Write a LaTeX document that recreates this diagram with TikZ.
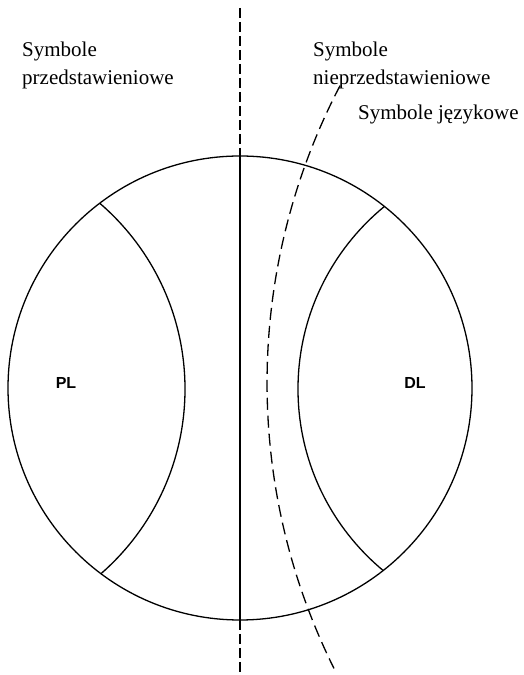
\documentclass[tikz,border=0pt]{standalone}
\usepackage{fontspec}
\setmainfont{Liberation Serif}
\setsansfont{Liberation Sans}
\usetikzlibrary{positioning,calc}
\tikzstyle{caption} = [font=\fontsize{21}{28}\selectfont,align=left,inner sep=0pt,anchor=base west]
\tikzstyle{field} = [font=\sffamily\bfseries\fontsize{16}{16}\selectfont,inner sep=0pt]
\tikzstyle{rim} = [line width=1.3pt]
\tikzstyle{brokenline} = [line width=1.3pt,dash pattern=on 12pt off 6pt]

\begin{document}
\begin{tikzpicture}[x=1pt,y=1pt]
        \useasboundingbox (0,0) rectangle (524,675);
        \coordinate (c) at (240,287);
        \coordinate (top) at (240,667);
        \coordinate (bot) at (240,0);

        \draw[rim] (c) circle (232pt);
        \begin{scope}
                \clip (c) circle (232pt);
                \draw[rim] (-60,286) circle (245pt);
                \draw[rim] (534,286) circle (236pt);
                \draw[rim] (top) -- (bot);
        \end{scope}
        \draw[brokenline,dash pattern=on 10pt off 4pt] (top) -- (240,519);
        \draw[brokenline,dash pattern=on 10pt off 4pt] (240,55) -- (bot);
        \draw[brokenline] (909,292) ++(152.4:642pt) arc[start angle=152.4,end angle=206.4,radius=642pt];

        \node[caption] (pre) at (22,590) {Symbole\\przedstawieniowe};
        \node[caption] (nonpre) at (313,590) {Symbole\\nieprzedstawieniowe};
        \node[caption] (lang) at (358,555) {Symbole językowe};

        \node[field] (pl) at (66,292) {PL};
        \node[field] (dl) at (415,292) {DL};
\end{tikzpicture}
\end{document}
